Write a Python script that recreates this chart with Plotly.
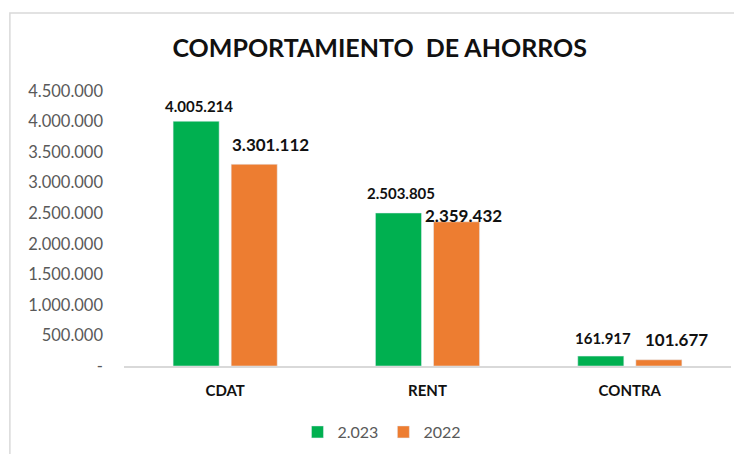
import plotly.graph_objects as go

categories = ["CDAT", "RENT", "CONTRA"]
series_2023 = [4005214, 2503805, 161917]
series_2022 = [3301112, 2359432, 101677]
series_names = ["2.023", "2022"]
tick_values = [0, 500000, 1000000, 1500000, 2000000, 2500000, 3000000, 3500000, 4000000, 4500000]
tick_labels = ["-", "500.000", "1.000.000", "1.500.000", "2.000.000", "2.500.000",
               "3.000.000", "3.500.000", "4.000.000", "4.500.000"]

FONT = "Lato, Carlito, Calibri, sans-serif"
COLORS = ["#00b050", "#ed7d31"]

# label placement (style): pixel offsets of each data label from its bar top centre
BAR_OFFSET = 29
label_style = [
    dict(size=15, dx=[3, 2, 2], dy=[15, 20, 18], side=-1),
    dict(size=17, dx=[16, 7, 18], dy=[20, 6, 20], side=1),
]


def fmt(v):
    return f"{v:,.0f}".replace(",", ".")


fig = go.Figure()
for name, vals, col in zip(series_names, [series_2023, series_2022], COLORS):
    fig.add_trace(go.Bar(x=categories, y=vals, name=name, marker=dict(color=col)))

annotations = []
for vals, st in zip([series_2023, series_2022], label_style):
    for i, (c, v) in enumerate(zip(categories, vals)):
        annotations.append(dict(
            x=c, y=v, xref="x", yref="y", text=fmt(v), showarrow=False,
            xanchor="center", yanchor="middle",
            xshift=st["side"] * BAR_OFFSET + st["dx"][i], yshift=st["dy"][i],
            font=dict(family=FONT, size=st["size"], color="#111111", weight="bold"),
        ))

fig.update_layout(
    width=742, height=454,
    paper_bgcolor="white", plot_bgcolor="white",
    separators=",.",
    barmode="group", bargap=0.426, bargroupgap=0.207,
    margin=dict(l=116, r=19, t=83, b=96, autoexpand=False),
    font=dict(family=FONT, color="#595959"),
    title=dict(text="COMPORTAMIENTO\u00a0\u00a0DE AHORROS", x=0.501, xanchor="center",
               y=0.912, yanchor="middle",
               font=dict(family=FONT, size=25, color="#111111", weight="bold")),
    showlegend=True,
    legend=dict(orientation="h", x=0.425, xanchor="center", yref="container",
                y=0.066, yanchor="middle",
                font=dict(family=FONT, size=16, color="#595959"),
                traceorder="normal"),
    annotations=annotations,
    shapes=[dict(type="rect", xref="paper", yref="paper",
                 x0=-0.188, x1=1.2, y0=-0.6, y1=1.284,
                 line=dict(color="#d9d9d9", width=1.5), fillcolor="rgba(0,0,0,0)",
                 layer="below")],
)
fig.update_yaxes(range=[0, 4500000], tickvals=tick_values, ticktext=tick_labels,
                 showgrid=False, zeroline=False, showline=False, ticks="",
                 ticklabelstandoff=20, automargin=False,
                 tickfont=dict(family=FONT, size=16.5, color="#595959"))
fig.update_xaxes(showline=True, linecolor="#d9d9d9", linewidth=1.5, ticks="",
                 ticklabelstandoff=10, automargin=False,
                 tickfont=dict(family=FONT, size=15, color="#111111", weight="bold"))

fig.write_html("out.html")
